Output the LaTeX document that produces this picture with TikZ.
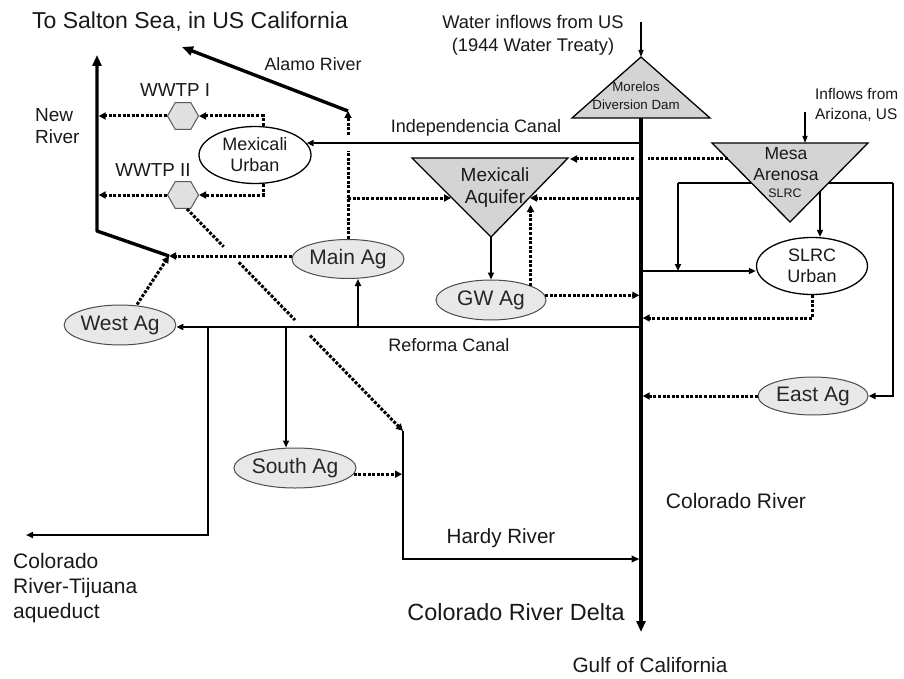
\documentclass[tikz,border=0pt]{standalone}
\usepackage{fontspec}
\setmainfont{Liberation Sans}
\usetikzlibrary{arrows.meta,shapes.geometric,calc}
\newcommand{\fsz}[2]{\fontsize{#1}{#2}\selectfont}
\tikzset{
  river/.style={line width=3.4pt, line join=round, -{Triangle[length=11pt,width=9pt]}},
  canalline/.style={line width=1.8pt},
  canal/.style={canalline, -{Triangle[length=7pt,width=6pt]}},
  hardy/.style={line width=2.3pt, -{Triangle[length=8pt,width=6.5pt]}},
  seepline/.style={line width=3pt, dash pattern=on 3pt off 1.6pt},
  seep/.style={seepline, -{Triangle[length=7pt,width=7pt]}},
  feed/.style={line width=1.2pt, -{Triangle[length=7pt,width=5pt]}},
  lbl/.style={inner sep=0pt, text=black!90},
  agnode/.style={ellipse, draw=black!70, line width=1pt, fill=black!9,
    minimum width=110pt, minimum height=39pt, inner sep=0pt,
    font=\fsz{21}{24}, text=black!85},
  urbnode/.style={ellipse, draw=black, line width=1.3pt, fill=white,
    minimum width=112pt, minimum height=57pt, inner sep=0pt, align=center,
    font=\fsz{18}{21}, text=black!90},
  plant/.style={regular polygon, regular polygon sides=6, minimum size=31pt,
    inner sep=0pt, draw=black!65, line width=1pt, fill=black!12},
  basin/.style={draw=black, line width=1.3pt, fill=black!17, line join=miter},
}
\begin{document}
\begin{tikzpicture}[x=1pt,y=-1pt]
\useasboundingbox (0,0) rectangle (904,679);
\fill[white] (0,0) rectangle (904,679);

% ---- key points of the network ----
\coordinate (morL) at (572,118); \coordinate (morR) at (710,118); \coordinate (morA) at (641,57);
\coordinate (rivTop) at (641,118); \coordinate (rivEnd) at (641,632);
\coordinate (usIn) at (641,22);
\coordinate (azIn) at (805,112); \coordinate (mesaIn) at (805,143);
\coordinate (mesaL) at (712,143); \coordinate (mesaR) at (868,143); \coordinate (mesaA) at (790,222);
\coordinate (aqL0) at (412,158); \coordinate (aqR0) at (568,158); \coordinate (aqA) at (491,237);
\coordinate (nrJn) at (169,256); \coordinate (nrBend) at (97,231); \coordinate (nrTop) at (97,55);
\coordinate (alBase) at (348,111); \coordinate (alEnd) at (182,47);
\coordinate (indS) at (641,143);
\coordinate (mvS) at (348,151); \coordinate (mvN) at (348,135);
\coordinate (maJn) at (348,198); \coordinate (aqLin) at (451,198);
\coordinate (rivAq) at (639,198); \coordinate (aqRin) at (530,198);
\coordinate (aqGW) at (530,205);
\coordinate (mesaAqS) at (728,159); \coordinate (rivGapE) at (648,159);
\coordinate (rivGapW) at (634,159); \coordinate (aqTR) at (570,159);
\coordinate (mlL) at (678,183); \coordinate (mlR) at (893,183);
\coordinate (mesaOut) at (820,191);
\coordinate (rivSL) at (641,271); \coordinate (rivSLo) at (641,318);
\coordinate (rfS) at (641,327); \coordinate (rfMA) at (358,327);
\coordinate (rfSA) at (286,327); \coordinate (rfTJ) at (208,327);
\coordinate (tjEnd) at (26,535);
\coordinate (w2s) at (187,209); \coordinate (hdTop) at (403,431);
\coordinate (hdEnd) at (641,559);

% ---- water bodies drawn as triangles ----
\draw[canalline] (mlL) -- (mlR);
\draw[basin] (morL) -- (morA) -- (morR) -- cycle;
\draw[basin] (mesaL) -- (mesaR) -- (mesaA) -- cycle;
\draw[basin] (aqL0) -- (aqR0) -- (aqA) -- cycle;
\node[lbl, font=\fsz{13.3}{18}, align=center] (morTxt) at (636,96) {Morelos\\Diversion Dam};
\node[lbl, font=\fsz{17.5}{21}, align=center] (mesaTxt) at (786,164) {Mesa\\Arenosa};
\node[lbl, font=\fsz{12.4}{14}] (mesaSub) at (785,193) {SLRC};
\node[lbl, font=\fsz{19}{22}, align=center] (aqTxt) at (495,188) {Mexicali\\Aquifer};

% ---- users and plants ----
\node[urbnode] (mxurb) at (255,155) {Mexicali\\Urban};
\node[urbnode, minimum width=111pt] (slrc) at (812,266) {SLRC\\Urban};
\node[agnode, minimum width=112pt] (mainag) at (348,259) {Main Ag};
\node[agnode, minimum height=40pt] (westag) at (120,325) {West Ag};
\node[agnode, minimum height=40pt] (gwag) at (491,300) {GW Ag};
\node[agnode, minimum width=111pt, minimum height=40pt] (southag) at (295,468) {South Ag};
\node[agnode, minimum height=38pt] (eastag) at (813,396) {East Ag};
\node[plant] (wwtp1) at (183,116) {};
\node[plant] (wwtp2) at (183,195) {};

% ---- rivers ----
\draw[river] (rivTop) -- (rivEnd);
\draw[river] (nrJn) -- (nrBend) -- (nrTop);
\draw[river] (alBase) -- (alEnd);
\draw[feed] (usIn) -- (morA);
\draw[feed] (azIn) -- (mesaIn);

% ---- canals ----
\draw[canal] (indS) -- (mxurb.13);
\draw[canal] (rfS) -- (rfS -| westag.east);
\draw[canal] (rfMA) -- (rfMA |- mainag.south);
\draw[canal] (rfSA) -- (rfSA |- southag.north);
\draw[canal] (rfTJ) |- (tjEnd);
\draw[canal] (aqA) -- (gwag.north);
\draw[canal] (rivSL) -- (rivSL -| slrc.west);
\draw[canal] (mlL) -- (mlL |- rivSL);
\draw[canal] (mlR) |- (eastag.east);
\draw[canal] (mesaOut) -- (mesaOut |- slrc.north);
\draw[hardy, shorten >=1.5pt] (hdTop) |- (hdEnd);

% ---- return flows and seepage ----
\draw[seep] ([xshift=8pt]mxurb.north) |- (wwtp1.east);
\draw[seep] ([xshift=8pt]mxurb.south) |- (wwtp2.east);
\draw[seep, shorten >=1.7pt] (wwtp1.west) -- (wwtp1.west -| nrTop);
\draw[seep, shorten >=1.7pt] (wwtp2.west) -- (wwtp2.west -| nrTop);
\draw[seep] (nrJn -| mainag.west) -- (nrJn);
\draw[seep] ([xshift=17pt]westag.north) -- (nrJn);
\draw[seepline] (mainag.north) -- (mvS);
\draw[seep] (mvN) -- (alBase);
\draw[seep] (maJn) -- (aqLin);
\draw[seep] (rivAq) -- (aqRin);
\draw[seep] (gwag.20) -- (gwag.20 |- aqGW);
\draw[seep, shorten >=1.7pt] (gwag.5) -- (gwag.5 -| rivTop);
\draw[seepline] (mesaAqS) -- (rivGapE);
\draw[seep] (rivGapW) -- (aqTR);
\draw[seep, shorten >=1.7pt] (slrc.south) |- (rivSLo);
\draw[seep, shorten >=1.7pt] (eastag.west) -- (eastag.west -| rivTop);
\draw[seep, shorten >=1pt] (southag.-6) -- (southag.-6 -| hdTop);
\draw[seepline] (w2s) -- ($(w2s)!0.17!(hdTop)$);
\draw[seepline] ($(w2s)!0.24!(hdTop)$) -- ($(w2s)!0.5!(hdTop)$);
\draw[seep] ($(w2s)!0.57!(hdTop)$) -- (hdTop);

% ---- labels ----
\node[lbl, font=\fsz{23}{26}] (ttl) at (190,22) {To Salton Sea, in US California};
\node[lbl, font=\fsz{17.8}{20}] (alamoLbl) at (313,64) {Alamo River};
\node[lbl, font=\fsz{18}{21}] (indLbl) at (476,128) {Independencia Canal};
\node[lbl, font=\fsz{18}{21}] (refLbl) at (449,345) {Reforma Canal};
\node[lbl, font=\fsz{19}{22}, align=left, anchor=west] (newLbl) at (35,126) {New\\River};
\node[lbl, font=\fsz{18.8}{21}] (w1Lbl) at (175,90) {WWTP I};
\node[lbl, font=\fsz{18.8}{21}] (w2Lbl) at (153,170) {WWTP II};
\node[lbl, font=\fsz{18.3}{23}, align=center] (usLbl) at (533,35) {Water inflows from US\\(1944 Water Treaty)};
\node[lbl, font=\fsz{15.4}{20}, align=left, anchor=west] (azLbl) at (815,105) {Inflows from\\Arizona, US};
\node[lbl, font=\fsz{21}{25}, align=left, anchor=west] (tjLbl) at (13,588) {Colorado\\River-Tijuana\\aqueduct};
\node[lbl, font=\fsz{20.6}{24}] (hdLbl) at (501,538) {Hardy River};
\node[lbl, font=\fsz{21}{24}] (crLbl) at (736,501) {Colorado River};
\node[lbl, font=\fsz{23.4}{26}] (dlLbl) at (516,612) {Colorado River Delta};
\node[lbl, font=\fsz{20.8}{24}] (gcLbl) at (650,665) {Gulf of California};
\end{tikzpicture}
\end{document}
